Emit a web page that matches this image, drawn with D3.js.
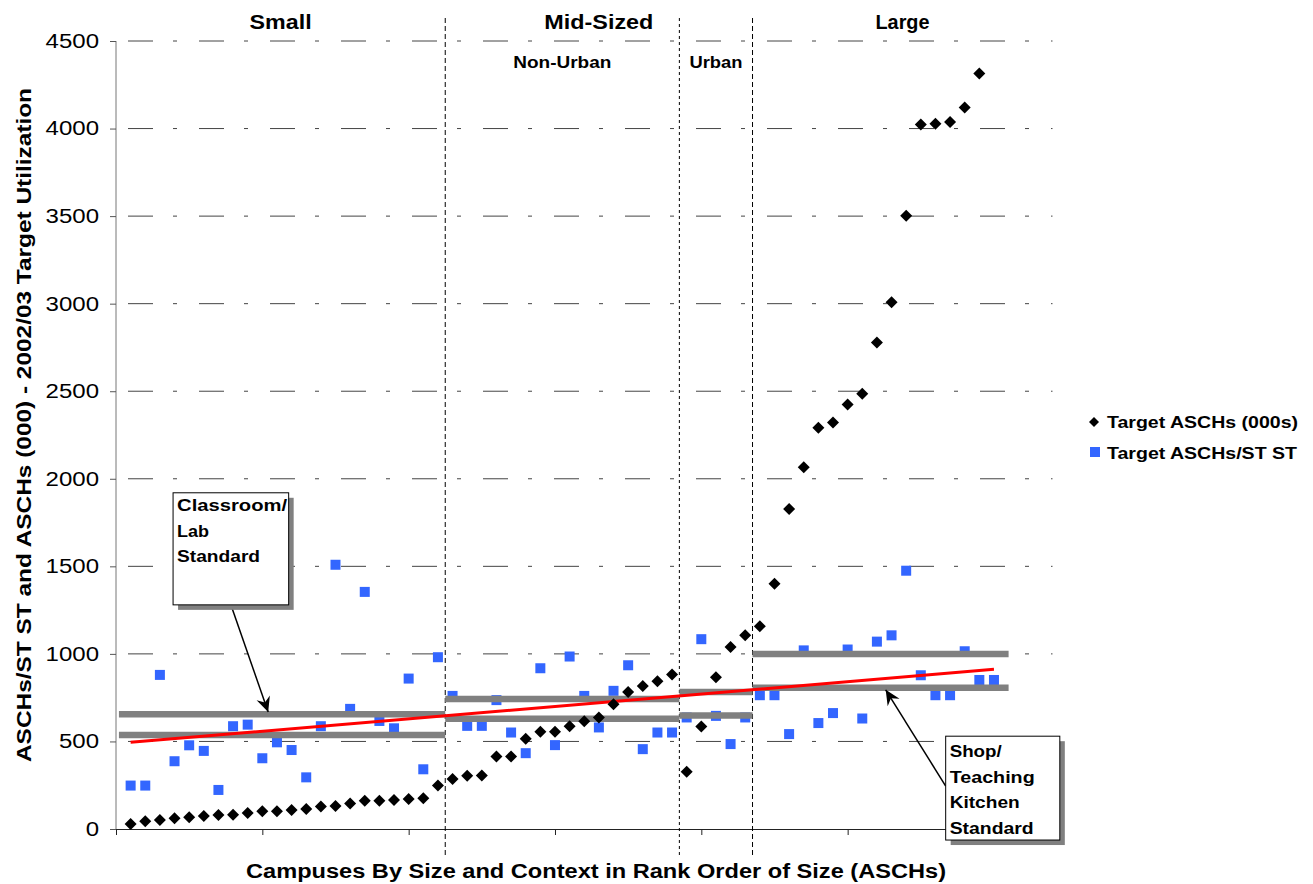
<!DOCTYPE html>
<html>
<head>
<meta charset="utf-8">
<script src="https://cdn.jsdelivr.net/npm/d3@7"></script>
<style>
  body { margin: 0; background: #fff; }
  svg { display: block; font-family: "Liberation Sans", Arial, sans-serif; }
</style>
</head>
<body>
<svg id="chart" width="1313" height="884"></svg>
<script>
// Target ASCHs (000s) per campus, in rank order, by group
const smallASCH = [29, 44, 51, 61, 67, 74, 80, 82, 91, 101, 101, 109, 114, 128, 131, 145, 162, 162, 166, 171, 175, 248];
const midNonUrbanASCH = [285, 304, 306, 414, 414, 515, 555, 555, 587, 616, 637, 713, 783, 817, 844, 882];
const midUrbanASCH = [327, 586, 867, 1040, 1106];
const largeASCH = [1158, 1401, 1827, 2066, 2291, 2321, 2424, 2485, 2778, 3008, 3502, 4023, 4027, 4038, 4120, 4314];

// Target ASCHs / ST ST per campus
const smallST = [248, 248, 880, 387, 478, 446, 223, 587, 596, 404, 495, 451, 295, 587, 1509, 686, 1354, 617, 575, 859, 341, 981];
const midNonUrbanST = [760, 589, 589, 736, 551, 433, 918, 479, 985, 760, 580, 789, 935, 456, 551, 551];
const midUrbanST = [637, 1084, 646, 485, 637];
const largeST = [764, 764, 542, 1020, 605, 662, 1025, 631, 1070, 1106, 1475, 878, 764, 764, 1015, 851, 851];

// group labels and boundaries (in campus rank units)
const groupNames = ["Small", "Mid-Sized", "Large"];
const subGroupNames = ["Non-Urban", "Urban"];
const dividers = [22.5, 38.5, 43.5];

// standards per group: [from, to, classroom/lab, shop/kitchen]
const standards = [
  [0.2, 22.5, 537, 655],
  [22.5, 38.5, 629, 743],
  [38.5, 43.5, 648, 783],
  [43.5, 61, 806, 1000]
];
// linear trend of ASCHs/ST (endpoints)
const trend = [[1, 495], [60, 912]];

const yTicks = [0, 500, 1000, 1500, 2000, 2500, 3000, 3500, 4000, 4500];
const xTicks = [0, 10, 20, 30, 40, 50, 60];

const asch = [].concat(smallASCH, midNonUrbanASCH, midUrbanASCH, largeASCH).map((v, i) => ({ k: i + 1, v }));
const st = [].concat(smallST, midNonUrbanST, midUrbanST, largeST).map((v, i) => ({ k: i + 1, v }));

const svg = d3.select('#chart');
const x = d3.scaleLinear().domain([0, 64]).range([116, 1052.5]);
const y = d3.scaleLinear().domain([0, 4500]).range([829, 41]);

const fit = (sel, w) => sel.attr('textLength', w).attr('lengthAdjust', 'spacingAndGlyphs');

// horizontal grid (dash-dot)
svg.append('g')
  .selectAll('line')
  .data(yTicks.slice(1))
  .join('line')
  .attr('x1', x(0)).attr('x2', x(64))
  .attr('y1', d => y(d)).attr('y2', d => y(d))
  .attr('stroke', '#444')
  .attr('stroke-width', 1)
  .attr('stroke-dasharray', '25,20,4,22')
  .attr('stroke-dashoffset', -12);

// Y axis
svg.append('g')
  .attr('transform', `translate(${x(0)},0)`)
  .call(d3.axisLeft(y).tickValues(yTicks).tickSize(6).tickPadding(11).tickFormat(d3.format('d')))
  .call(g => g.select('.domain').attr('stroke', '#777').attr('d', `M0,${y(0)}V${y(4500)}`))
  .call(g => g.selectAll('.tick line').attr('stroke', '#555'))
  .call(g => g.selectAll('.tick text')
    .attr('fill', '#000')
    .style('font-size', '20px')
    .each(function () {
      const w = this.getComputedTextLength();
      d3.select(this).attr('textLength', w * 1.2).attr('lengthAdjust', 'spacingAndGlyphs');
    }));

// X axis
svg.append('g')
  .attr('transform', `translate(0,${y(0)})`)
  .call(d3.axisBottom(x).tickValues(xTicks).tickSize(6).tickFormat(''))
  .call(g => g.select('.domain').attr('stroke', '#222'))
  .call(g => g.selectAll('.tick line').attr('stroke', '#222'));

// group dividers
svg.append('g')
  .selectAll('line')
  .data(dividers)
  .join('line')
  .attr('x1', d => x(d)).attr('x2', d => x(d))
  .attr('y1', 18).attr('y2', 856)
  .attr('stroke', '#000')
  .attr('stroke-width', 1)
  .attr('stroke-dasharray', (d, i) => i === 1 ? '3,3' : '5,3');

// ASCHs/ST squares
svg.append('g')
  .selectAll('rect')
  .data(st)
  .join('rect')
  .attr('x', d => x(d.k) - 5)
  .attr('y', d => y(d.v) - 5)
  .attr('width', 10)
  .attr('height', 10)
  .attr('fill', '#3366ff');

// standard lines
const stdG = svg.append('g');
standards.forEach(s => {
  [s[2], s[3]].forEach(v => {
    stdG.append('line')
      .attr('x1', x(s[0])).attr('x2', x(s[1]))
      .attr('y1', y(v)).attr('y2', y(v))
      .attr('stroke', '#808080')
      .attr('stroke-width', 6.5);
  });
});

// trend line
svg.append('path')
  .datum(trend)
  .attr('fill', 'none')
  .attr('stroke', '#ff0000')
  .attr('stroke-width', 3)
  .attr('d', d3.line().x(d => x(d[0])).y(d => y(d[1])));

// ASCHs diamonds
svg.append('g')
  .selectAll('path')
  .data(asch)
  .join('path')
  .attr('transform', d => `translate(${x(d.k)},${y(d.v)})`)
  .attr('d', 'M0,-6L6,0L0,6L-6,0Z')
  .attr('fill', '#000');

// group headers
const headerPos = [[11.25, 62], [33, 109], [53.75, 54]];
svg.append('g')
  .selectAll('text')
  .data(groupNames)
  .join('text')
  .attr('x', (d, i) => x(headerPos[i][0]))
  .attr('y', 29)
  .attr('text-anchor', 'middle')
  .style('font-size', '20px')
  .style('font-weight', 'bold')
  .text(d => d)
  .each(function (d, i) { fit(d3.select(this), headerPos[i][1]); });

const subPos = [[30.5, 98], [41, 53]];
svg.append('g')
  .selectAll('text')
  .data(subGroupNames)
  .join('text')
  .attr('x', (d, i) => x(subPos[i][0]))
  .attr('y', 68)
  .attr('text-anchor', 'middle')
  .style('font-size', '16px')
  .style('font-weight', 'bold')
  .text(d => d)
  .each(function (d, i) { fit(d3.select(this), subPos[i][1]); });

// axis titles
svg.append('text')
  .attr('x', 596).attr('y', 878)
  .attr('text-anchor', 'middle')
  .style('font-size', '20px')
  .style('font-weight', 'bold')
  .text('Campuses By Size and Context in Rank Order of Size (ASCHs)')
  .call(fit, 700);

svg.append('text')
  .attr('transform', 'translate(31,425) rotate(-90)')
  .attr('text-anchor', 'middle')
  .style('font-size', '20px')
  .style('font-weight', 'bold')
  .text('ASCHs/ST ST and ASCHs (000) - 2002/03 Target Utilization')
  .call(fit, 674);

// legend
const legend = svg.append('g');
legend.append('path')
  .attr('transform', 'translate(1094,422)')
  .attr('d', 'M0,-5L5,0L0,5L-5,0Z')
  .attr('fill', '#000');
legend.append('text')
  .attr('x', 1107).attr('y', 428)
  .style('font-size', '17px').style('font-weight', 'bold')
  .text('Target ASCHs (000s)').call(fit, 191);
legend.append('rect')
  .attr('x', 1090).attr('y', 447).attr('width', 10).attr('height', 10)
  .attr('fill', '#3366ff');
legend.append('text')
  .attr('x', 1107).attr('y', 458.5)
  .style('font-size', '17px').style('font-weight', 'bold')
  .text('Target ASCHs/ST ST').call(fit, 190);

// callouts
svg.append('defs').append('marker')
  .attr('id', 'head')
  .attr('viewBox', '-16 -8 18 16')
  .attr('refX', 0).attr('refY', 0)
  .attr('markerWidth', 18).attr('markerHeight', 16)
  .attr('markerUnits', 'userSpaceOnUse')
  .attr('orient', 'auto')
  .append('path')
  .attr('d', 'M0,0L-15,-7L-10,0L-15,7Z')
  .attr('fill', '#000');

const callouts = [
  { box: [3.9, 11.8, 1920, 1280], from: [7.85, 1280], to: [10.4, 668],
    lines: [['Classroom/', 110], ['Lab', 32], ['Standard', 83]], first: 511 },
  { box: [56.7, 64.5, 530, -63], from: [56.7, 245], to: [52.6, 795],
    lines: [['Shop/', 52], ['Teaching', 85], ['Kitchen', 70], ['Standard', 84]], first: 757 }
];

callouts.forEach(c => {
  const g = svg.append('g');
  g.append('line')
    .attr('x1', x(c.from[0])).attr('y1', y(c.from[1]))
    .attr('x2', x(c.to[0])).attr('y2', y(c.to[1]))
    .attr('stroke', '#000').attr('stroke-width', 1.5)
    .attr('marker-end', 'url(#head)');
  const bx = x(c.box[0]), bw = x(c.box[1]) - x(c.box[0]);
  const by = y(c.box[2]), bh = y(c.box[3]) - y(c.box[2]);
  g.append('rect')
    .attr('x', bx + 5).attr('y', by + 5).attr('width', bw).attr('height', bh)
    .attr('fill', '#808080');
  g.append('rect')
    .attr('x', bx).attr('y', by).attr('width', bw).attr('height', bh)
    .attr('fill', '#fff').attr('stroke', '#000').attr('stroke-width', 1);
  c.lines.forEach((l, i) => {
    g.append('text')
      .attr('x', bx + 4).attr('y', c.first + i * 25.5)
      .style('font-size', '17px').style('font-weight', 'bold')
      .text(l[0]).call(fit, l[1]);
  });
});
</script>
</body>
</html>
